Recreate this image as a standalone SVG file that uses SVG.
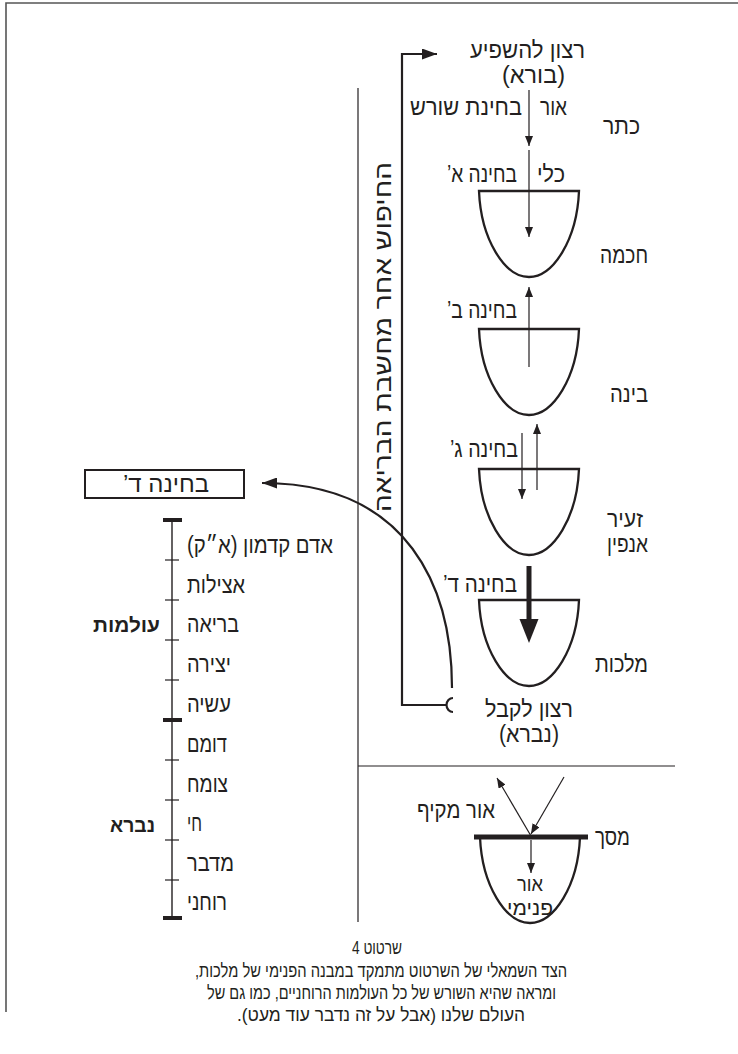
<svg xmlns="http://www.w3.org/2000/svg" xmlns:xlink="http://www.w3.org/1999/xlink" width="738" height="1054" viewBox="0 0 738 1054">
<style>
  text { font-family: "Liberation Sans", "DejaVu Sans", sans-serif; fill: #231f20; direction: rtl; unicode-bidi: embed; text-anchor: middle; }
  .lbl { font-size: 23px; }
  .sm { font-size: 20px; }
  .bold { font-weight: bold; font-size: 20px; }
  .cap { font-size: 19px; }
  .thin { stroke: #231f20; stroke-width: 1.2; fill: none; }
  .med { stroke: #231f20; stroke-width: 2.2; fill: none; }
  .bowl { stroke: #231f20; stroke-width: 2.3; fill: #fff; stroke-linejoin: miter; }
</style>
<defs>
  <marker id="ah" markerUnits="userSpaceOnUse" markerWidth="10" markerHeight="8" refX="10" refY="4" orient="auto">
    <path d="M0,0 L10,4 L0,8 z" fill="#231f20"/>
  </marker>
  <marker id="ahBig" markerUnits="userSpaceOnUse" markerWidth="15" markerHeight="11" refX="15" refY="5.5" orient="auto">
    <path d="M0,0 L15,5.5 L0,11 z" fill="#231f20"/>
  </marker>
  <path id="bowlShape" d="M-50,0 L50,0 C48,49 24,86 0,86 C-24,86 -48,49 -50,0 Z"/>
</defs>

<rect width="738" height="1054" fill="#fff"/>

<g id="frame">
  <path d="M6,1012 L6,3 L738,3" stroke="#555" stroke-width="1.6" fill="none"/>
</g>

<g id="dividers">
  <line x1="358" y1="88" x2="358" y2="922" class="thin"/>
  <line x1="358" y1="766" x2="675" y2="766" class="thin"/>
</g>

<g id="connectors">
  <path d="M447,705 L402,705 L402,54 L437,54" class="med" marker-end="url(#ahBig)"/>
  <path d="M453,698 A6.5,7 0 0 0 453,712" class="med"/>
  <path d="M452,688 C452,590 410,483 262,483" class="med" marker-end="url(#ahBig)"/>
  <line x1="529" y1="90" x2="529" y2="146" class="thin" marker-end="url(#ah)"/>
  <line x1="529" y1="150" x2="529" y2="237" class="thin" marker-end="url(#ah)"/>
  <line x1="529" y1="367" x2="529" y2="287" class="thin" marker-end="url(#ah)"/>
  <line x1="522" y1="433" x2="522" y2="499" class="thin" marker-end="url(#ah)"/>
  <line x1="537" y1="490" x2="537" y2="424" class="thin" marker-end="url(#ah)"/>
  <line x1="564" y1="777" x2="531" y2="834" class="thin" marker-end="url(#ah)"/>
  <line x1="531" y1="836" x2="497" y2="778" class="thin" marker-end="url(#ah)"/>
</g>

<g id="vessel-chochma">
  <use xlink:href="#bowlShape" x="529" y="191" class="bowl"/>
</g>
<g id="vessel-bina">
  <use xlink:href="#bowlShape" x="529" y="329" class="bowl"/>
</g>
<g id="vessel-za">
  <use xlink:href="#bowlShape" x="529" y="469" class="bowl"/>
</g>
<g id="vessel-malchut">
  <use xlink:href="#bowlShape" x="529" y="600" class="bowl"/>
</g>
<g id="vessel-masach">
  <use xlink:href="#bowlShape" x="530" y="837" class="bowl"/>
  <line x1="474" y1="837" x2="588" y2="837" stroke="#231f20" stroke-width="5"/>
</g>

<g id="inner-arrows">
  <line x1="529" y1="191" x2="529" y2="237" class="thin" marker-end="url(#ah)"/>
  <line x1="529" y1="367" x2="529" y2="329" class="thin"/>
  <line x1="522" y1="469" x2="522" y2="499" class="thin" marker-end="url(#ah)"/>
  <line x1="537" y1="490" x2="537" y2="469" class="thin"/>
  <line x1="531" y1="840" x2="531" y2="873" class="thin" marker-end="url(#ah)"/>
  <line x1="529" y1="566" x2="529" y2="621" stroke="#231f20" stroke-width="5"/>
  <polygon points="519.5,619 538.5,619 529,643" fill="#231f20"/>
</g>

<g id="top-labels" class="lbl">
  <text x="527.5" y="58" textLength="115" lengthAdjust="spacingAndGlyphs">רצון להשפיע</text>
  <text x="533.5" y="83" textLength="63" lengthAdjust="spacingAndGlyphs">(בורא)</text>
  <text x="553.5" y="115" textLength="27" lengthAdjust="spacingAndGlyphs">אור</text>
  <text x="466" y="115" textLength="112" lengthAdjust="spacingAndGlyphs">בחינת שורש</text>
  <text x="621.5" y="134" textLength="37" lengthAdjust="spacingAndGlyphs">כתר</text>
</g>

<g id="stage-labels" class="lbl">
  <text x="551" y="182" textLength="28" lengthAdjust="spacingAndGlyphs">כלי</text>
  <text x="482" y="182" textLength="70" lengthAdjust="spacingAndGlyphs">בחינה א’</text>
  <text x="624" y="263" textLength="48" lengthAdjust="spacingAndGlyphs">חכמה</text>
  <text x="482" y="318" textLength="70" lengthAdjust="spacingAndGlyphs">בחינה ב’</text>
  <text x="629" y="402" textLength="38" lengthAdjust="spacingAndGlyphs">בינה</text>
  <text x="484" y="457" textLength="68" lengthAdjust="spacingAndGlyphs">בחינה ג’</text>
  <text x="625" y="527" textLength="36" lengthAdjust="spacingAndGlyphs">זעיר</text>
  <text x="627.5" y="552" textLength="41" lengthAdjust="spacingAndGlyphs">אנפין</text>
  <text x="480" y="592" textLength="74" lengthAdjust="spacingAndGlyphs">בחינה ד’</text>
  <text x="621.5" y="672" textLength="53" lengthAdjust="spacingAndGlyphs">מלכות</text>
  <text x="529" y="717" textLength="88" lengthAdjust="spacingAndGlyphs">רצון לקבל</text>
  <text x="529" y="742" textLength="60" lengthAdjust="spacingAndGlyphs">(נברא)</text>
</g>

<g id="search-label" class="lbl">
  <text transform="translate(391,337) rotate(-90)" textLength="350" lengthAdjust="spacingAndGlyphs">החיפוש אחר מחשבת הבריאה</text>
</g>

<g id="masach-labels">
  <text x="456" y="818" class="lbl" textLength="78" lengthAdjust="spacingAndGlyphs">אור מקיף</text>
  <text x="612.5" y="845" class="lbl" textLength="35" lengthAdjust="spacingAndGlyphs">מסך</text>
  <text x="530" y="891" class="sm" textLength="26" lengthAdjust="spacingAndGlyphs">אור</text>
  <text x="530" y="915" class="sm" textLength="46" lengthAdjust="spacingAndGlyphs">פנימי</text>
</g>

<g id="box-bchina-dalet">
  <rect x="85" y="470" width="159" height="28" fill="#fff" stroke="#231f20" stroke-width="2"/>
  <text x="166" y="492" class="lbl" textLength="86" lengthAdjust="spacingAndGlyphs">בחינה ד’</text>
</g>

<g id="scale">
  <line x1="172" y1="520" x2="172" y2="918" stroke="#231f20" stroke-width="1.4"/>
  <g stroke="#231f20" stroke-width="4">
    <line x1="163" y1="520" x2="182" y2="520"/>
    <line x1="163" y1="720" x2="182" y2="720"/>
    <line x1="163" y1="918" x2="182" y2="918"/>
  </g>
  <g stroke="#231f20" stroke-width="1.2">
    <line x1="165" y1="560" x2="179" y2="560"/>
    <line x1="165" y1="600" x2="179" y2="600"/>
    <line x1="165" y1="640" x2="179" y2="640"/>
    <line x1="165" y1="680" x2="179" y2="680"/>
    <line x1="165" y1="760" x2="179" y2="760"/>
    <line x1="165" y1="800" x2="179" y2="800"/>
    <line x1="165" y1="840" x2="179" y2="840"/>
    <line x1="165" y1="880" x2="179" y2="880"/>
  </g>
  <g class="lbl">
    <text x="260" y="553" textLength="146" lengthAdjust="spacingAndGlyphs">אדם קדמון (א״ק)</text>
    <text x="216" y="593" textLength="58" lengthAdjust="spacingAndGlyphs">אצילות</text>
    <text x="213" y="632" textLength="52" lengthAdjust="spacingAndGlyphs">בריאה</text>
    <text x="209" y="672" textLength="44" lengthAdjust="spacingAndGlyphs">יצירה</text>
    <text x="209" y="712" textLength="44" lengthAdjust="spacingAndGlyphs">עשיה</text>
    <text x="207" y="752" textLength="40" lengthAdjust="spacingAndGlyphs">דומם</text>
    <text x="207.5" y="792" textLength="41" lengthAdjust="spacingAndGlyphs">צומח</text>
    <text x="194.5" y="831" textLength="15" lengthAdjust="spacingAndGlyphs">חי</text>
    <text x="210.5" y="871" textLength="47" lengthAdjust="spacingAndGlyphs">מדבר</text>
    <text x="207" y="910" textLength="40" lengthAdjust="spacingAndGlyphs">רוחני</text>
  </g>
  <text x="126.5" y="632" class="bold" textLength="67" lengthAdjust="spacingAndGlyphs">עולמות</text>
  <text x="132.5" y="832" class="bold" textLength="45" lengthAdjust="spacingAndGlyphs">נברא</text>
</g>

<g id="caption" class="cap">
  <text x="377" y="954" textLength="50" lengthAdjust="spacingAndGlyphs">שרטוט 4</text>
  <text x="381" y="977" textLength="372" lengthAdjust="spacingAndGlyphs">הצד השמאלי של השרטוט מתמקד במבנה הפנימי של מלכות,</text>
  <text x="381.5" y="999" textLength="349" lengthAdjust="spacingAndGlyphs">ומראה שהיא השורש של כל העולמות הרוחניים, כמו גם של</text>
  <text x="381" y="1021" textLength="288" lengthAdjust="spacingAndGlyphs">העולם שלנו (אבל על זה נדבר עוד מעט).</text>
</g>
</svg>
